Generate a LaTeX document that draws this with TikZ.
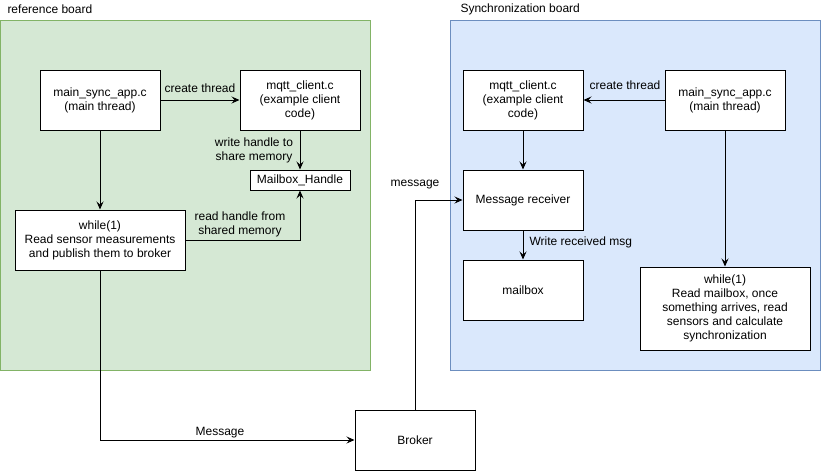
\documentclass[tikz,border=0pt]{standalone}
\usepackage{fontspec}
\setmainfont{Liberation Sans}
\usetikzlibrary{arrows.meta}

\definecolor{refFill}{HTML}{D5E8D4}
\definecolor{refLine}{HTML}{82B366}
\definecolor{syncFill}{HTML}{DAE8FC}
\definecolor{syncLine}{HTML}{6C8EBF}

\begin{document}
\begin{tikzpicture}[x=1pt, y=-1pt, line width=1pt,
        font=\fontsize{12}{14}\selectfont,
        block/.style={draw, fill=white, align=center, inner sep=2pt},
        note/.style={align=center, inner sep=1pt},
        flow/.style={-{Stealth[length=8pt, width=7pt, inset=3pt]}}]
    \useasboundingbox (0,0) rectangle (821,471);

    % boards
    \draw [fill=refFill, draw=refLine] (0,20) rectangle (370,370);
    \draw [fill=syncFill, draw=syncLine] (450,20) rectangle (820,370);
    \node [note, anchor=west] (refTitle) at (6,9) {reference board};
    \node [note, anchor=west] (syncTitle) at (459,9) {Synchronization board};

    % reference board
    \node [block, minimum width=120pt, minimum height=60pt] (refMain) at (100,100) {main\_sync\_app.c\\(main thread)};
    \node [block, minimum width=120pt, minimum height=60pt] (refClient) at (300,100) {mqtt\_client.c\\(example client\\code)};
    \node [block, minimum width=100pt, minimum height=20pt] (refHandle) at (300,180) {Mailbox\_Handle};
    \node [block, minimum width=170pt, minimum height=60pt] (refLoop) at (100,240) {while(1)\\Read sensor measurements\\and publish them to broker};

    % broker
    \node [block, minimum width=120pt, minimum height=60pt] (broker) at (415,440) {Broker};

    % synchronization board
    \node [block, minimum width=120pt, minimum height=60pt] (syncClient) at (523,100) {mqtt\_client.c\\(example client\\code)};
    \node [block, minimum width=120pt, minimum height=60pt] (syncMain) at (725,100) {main\_sync\_app.c\\(main thread)};
    \node [block, minimum width=120pt, minimum height=60pt] (receiver) at (523,200) {Message receiver};
    \node [block, minimum width=120pt, minimum height=60pt] (mailbox) at (523,290) {mailbox};
    \node [block, minimum width=170pt, minimum height=83pt] (syncLoop) at (725,308.5) {while(1)\\Read mailbox, once\\something arrives, read\\sensors and calculate\\synchronization};

    % connectors
    \draw [flow] (refMain) -- (refClient);
    \node [note] (refCreate) at (200,88) {create thread};
    \draw [flow] (refClient) -- (refHandle);
    \node [note] (refWrite) at (254,150) {write handle to\\share memory};
    \draw [flow] (refMain) -- (refLoop);
    \draw [flow] (refLoop.east) -| (refHandle.south);
    \node [note] (refRead) at (240,224) {read handle from\\shared memory};
    \draw [flow] (refLoop.south) |- (broker.west);
    \node [note] (pubMsg) at (220,433) {Message};
    \draw [flow] (broker.north) |- (receiver.west);
    \node [note] (subMsg) at (415,185) {message};

    \draw [flow] (syncMain) -- (syncClient);
    \node [note] (syncCreate) at (625,85) {create thread};
    \draw [flow] (syncClient) -- (receiver);
    \draw [flow] (receiver) -- (mailbox);
    \node [note, anchor=west] (syncWrite) at (528,242) {Write received msg};
    \draw [flow] (syncMain) -- (syncLoop);
\end{tikzpicture}
\end{document}
